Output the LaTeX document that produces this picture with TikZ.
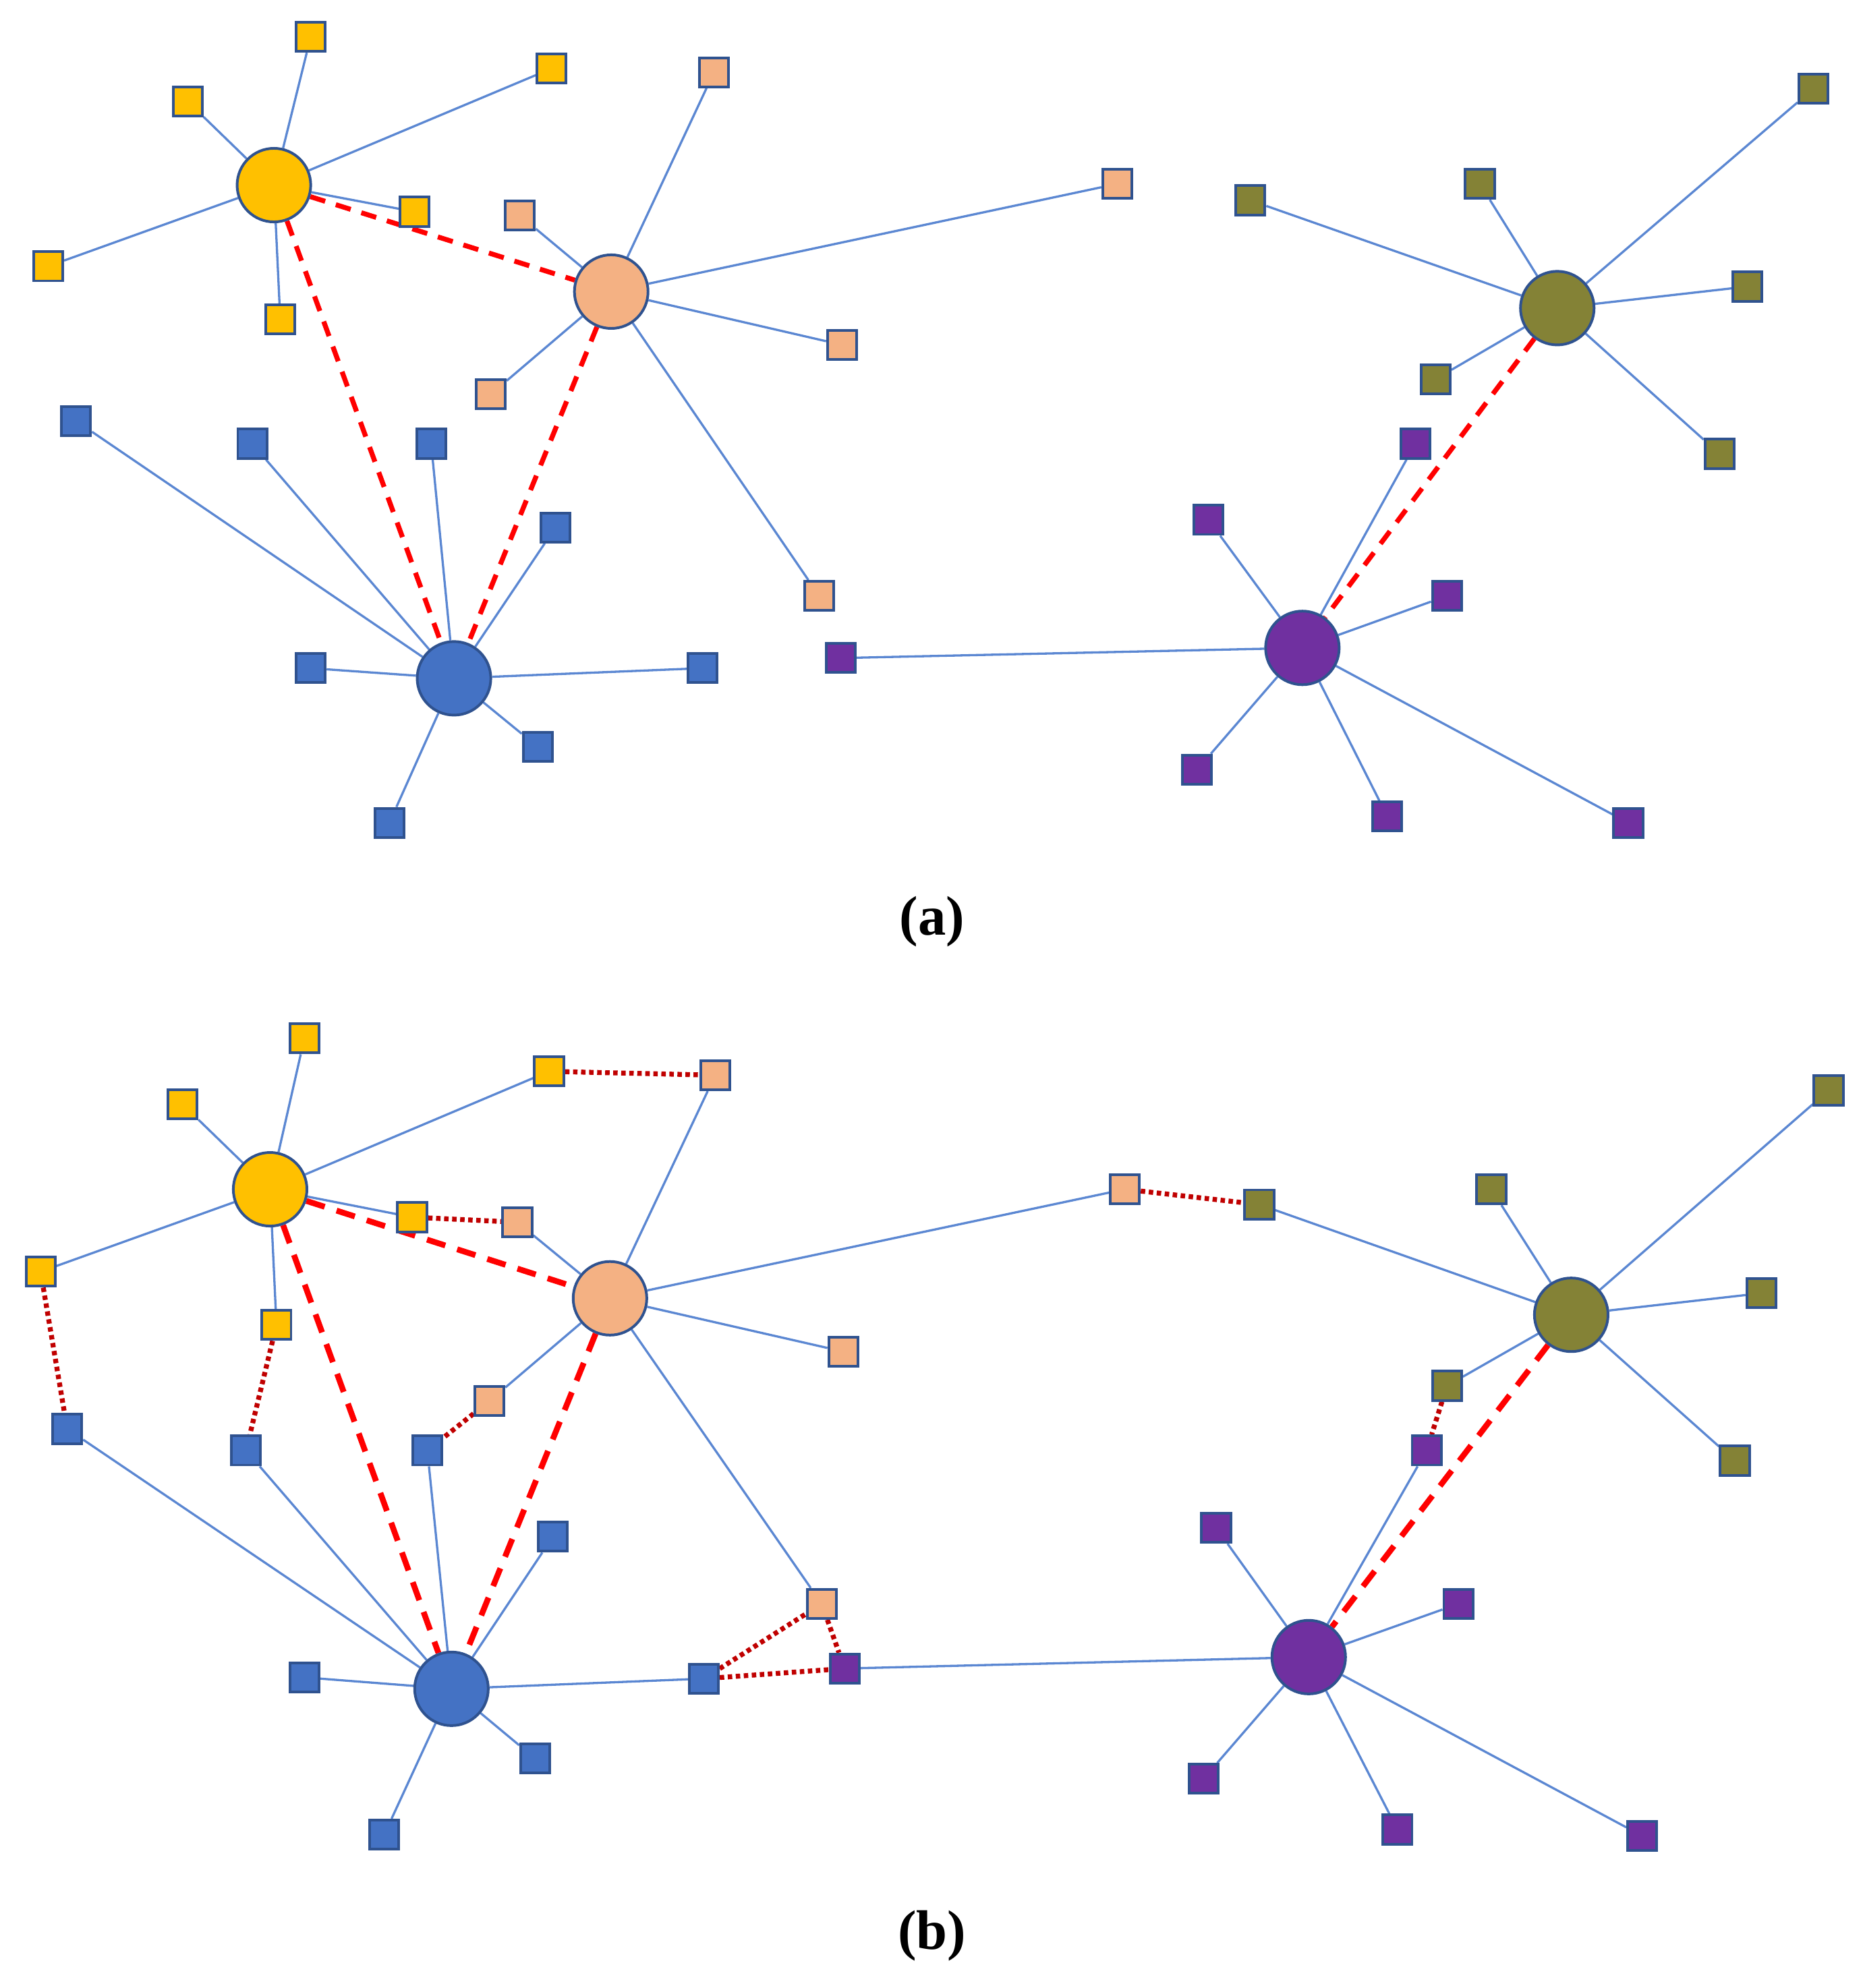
\documentclass[tikz,border=0pt]{standalone}
\usepackage{fontspec}
\setmainfont{Liberation Serif}
\usetikzlibrary{backgrounds}
\definecolor{cY}{HTML}{FFC000}
\definecolor{cP}{HTML}{F4B183}
\definecolor{cB}{HTML}{4472C4}
\definecolor{cO}{HTML}{848236}
\definecolor{cV}{HTML}{7030A0}
\definecolor{cEdge}{HTML}{5B87D2}
\definecolor{cOut}{HTML}{2F528F}
\definecolor{cRed}{HTML}{FF0000}
\definecolor{cDot}{HTML}{C00000}
\tikzset{
  hub/.style={circle,draw=cOut,line width=0.6pt,minimum size=0.58cm,inner sep=0pt},
  sq/.style={rectangle,draw=cOut,line width=0.6pt,minimum size=0.23cm,inner sep=0pt},
  edge/.style={draw=cEdge,line width=0.5pt},
  hublinka/.style={draw=cRed,line width=1.1pt,dash pattern=on 3.5pt off 2.5pt},
  hublinkb/.style={draw=cRed,line width=1.3pt,dash pattern=on 4.3pt off 2.8pt},
  crosslink/.style={draw=cDot,line width=1.1pt,dash pattern=on 1pt off 0.8pt},
  lbl/.style={font=\fontsize{12.5}{14}\selectfont\bfseries,inner sep=0pt}
}
\begin{document}
\begin{tikzpicture}[x=0.01cm,y=-0.01cm]
\useasboundingbox (0,0) rectangle (1469,1568);
% ---------------- panel (a) ----------------
\node[hub,fill=cY] (aY) at (216,146) {};
\node[hub,fill=cP] (aP) at (482,230) {};
\node[hub,fill=cB] (aB) at (358,535) {};
\node[hub,fill=cO] (aO) at (1228,243) {};
\node[hub,fill=cV] (aV) at (1027,511) {};
\foreach \n/\x/\y in {1/245/29,2/148/80,3/435/54,4/327/167,5/38/210,6/221/252}
  \node[sq,fill=cY] (aY\n) at (\x,\y) {};
\foreach \n/\x/\y in {1/563/57,2/881/145,3/410/170,4/664/272,5/387/311,6/646/470}
  \node[sq,fill=cP] (aP\n) at (\x,\y) {};
\foreach \n/\x/\y in {1/60/332,2/199/350,3/340/350,4/438/416,5/245/527,6/554/527,7/424/589,8/307/649}
  \node[sq,fill=cB] (aB\n) at (\x,\y) {};
\foreach \n/\x/\y in {1/1430/70,2/1167/145,3/986/158,4/1378/226,5/1132/299,6/1356/358}
  \node[sq,fill=cO] (aO\n) at (\x,\y) {};
\foreach \n/\x/\y in {1/1116/350,2/953/410,3/1141/470,4/663/519,5/944/607,6/1094/644,7/1284/649}
  \node[sq,fill=cV] (aV\n) at (\x,\y) {};
\node[lbl] (la) at (735,727) {(a)};
% ---------------- panel (b) ----------------
\node[hub,fill=cY] (bY) at (213,938) {};
\node[hub,fill=cP] (bP) at (481,1024) {};
\node[hub,fill=cB] (bB) at (356,1332) {};
\node[hub,fill=cO] (bO) at (1239,1037) {};
\node[hub,fill=cV] (bV) at (1032,1307) {};
\foreach \n/\x/\y in {1/240/819,2/144/871,3/433/845,4/325/960,5/32/1003,6/218/1045}
  \node[sq,fill=cY] (bY\n) at (\x,\y) {};
\foreach \n/\x/\y in {1/564/848,2/887/938,3/408/964,4/665/1066,5/386/1105,6/648/1265}
  \node[sq,fill=cP] (bP\n) at (\x,\y) {};
\foreach \n/\x/\y in {1/53/1127,2/194/1144,3/337/1144,4/436/1212,5/240/1323,6/555/1324,7/422/1387,8/303/1447}
  \node[sq,fill=cB] (bB\n) at (\x,\y) {};
\foreach \n/\x/\y in {1/1442/860,2/1176/938,3/993/950,4/1389/1020,5/1141/1093,6/1368/1152}
  \node[sq,fill=cO] (bO\n) at (\x,\y) {};
\foreach \n/\x/\y in {1/1125/1144,2/959/1205,3/1150/1265,4/666/1316,5/949/1403,6/1102/1443,7/1295/1448}
  \node[sq,fill=cV] (bV\n) at (\x,\y) {};
\node[lbl] (lb) at (735,1527) {(b)};
% ---------------- connectors ----------------
\begin{scope}[on background layer]
\foreach \p in {a,b}{
  \foreach \n in {1,...,6} \draw[edge] (\p Y) -- (\p Y\n);
  \foreach \n in {1,...,6} \draw[edge] (\p P) -- (\p P\n);
  \foreach \n in {1,...,8} \draw[edge] (\p B) -- (\p B\n);
  \foreach \n in {1,...,6} \draw[edge] (\p O) -- (\p O\n);
  \foreach \n in {1,...,7} \draw[edge] (\p V) -- (\p V\n);
  \draw[hublink\p] (\p Y) -- (\p P);
  \draw[hublink\p] (\p Y) -- (\p B);
  \draw[hublink\p] (\p P) -- (\p B);
  \draw[hublink\p] (\p O) -- (\p V);
}
\draw[crosslink] (bY3) -- (bP1);
\draw[crosslink] (bY4) -- (bP3);
\draw[crosslink] (bY5) -- (bB1);
\draw[crosslink] (bY6) -- (bB2);
\draw[crosslink] (bP5) -- (bB3);
\draw[crosslink] (bP2) -- (bO3);
\draw[crosslink] (bO5) -- (bV1);
\draw[crosslink] (bB6) -- (bP6);
\draw[crosslink] (bP6) -- (bV4);
\draw[crosslink] (bB6) -- (bV4);
\end{scope}
\end{tikzpicture}
\end{document}
